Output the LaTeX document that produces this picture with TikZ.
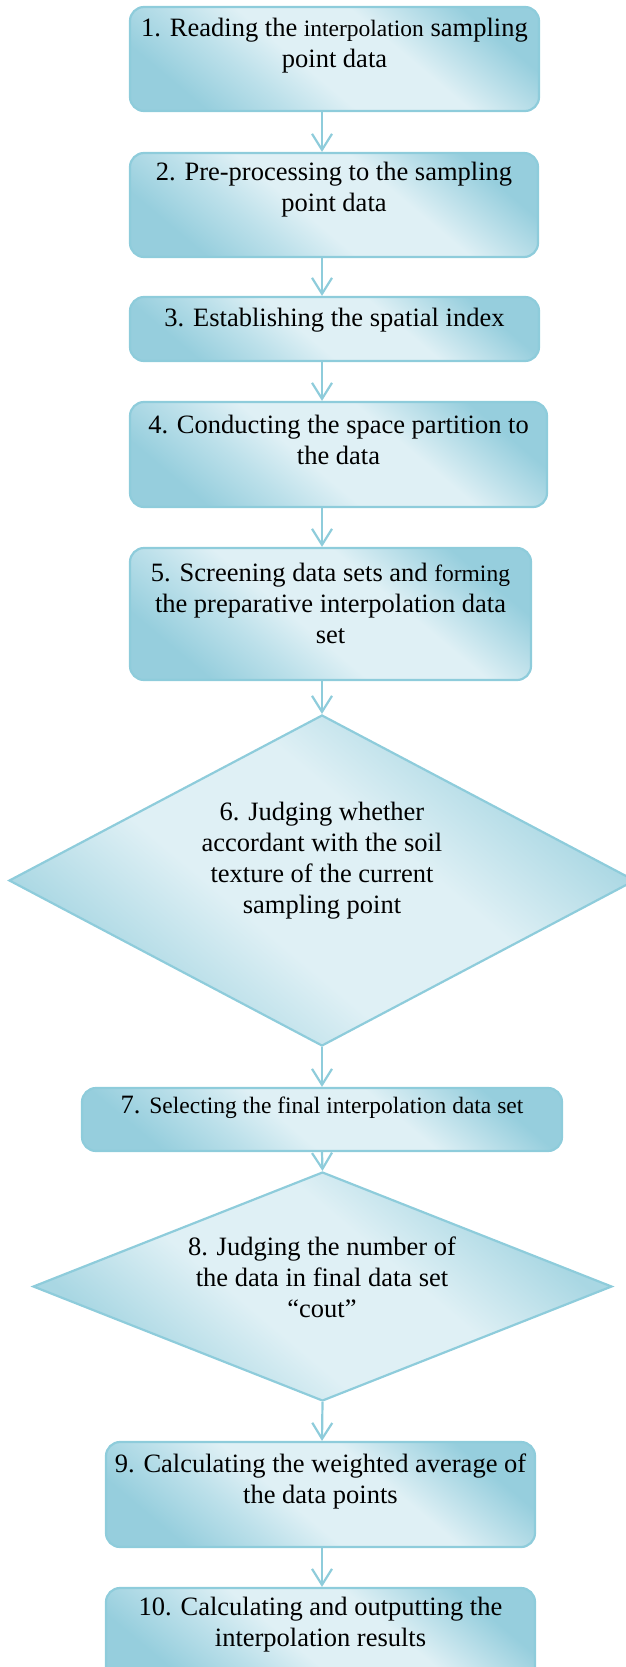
\documentclass[tikz,border=0pt]{standalone}
\usepackage{fontspec}
\setmainfont{Liberation Serif}
\usetikzlibrary{arrows.meta,shapes.geometric}
\definecolor{edgeblue}{HTML}{8ECCDB}
\definecolor{darkfill}{HTML}{96CEDD}
\definecolor{midfill}{HTML}{BCE0EA}
\definecolor{lightfill}{HTML}{DFF0F5}
\definecolor{ddark}{HTML}{A9D7E3}
\pgfdeclareverticalshading{boxshade}{100bp}{color(0bp)=(darkfill); color(25bp)=(darkfill); color(36bp)=(midfill); color(45bp)=(lightfill); color(60bp)=(lightfill); color(75bp)=(darkfill); color(100bp)=(darkfill)}
\pgfdeclareverticalshading{diashade}{100bp}{color(0bp)=(ddark); color(28bp)=(ddark); color(42bp)=(lightfill); color(58bp)=(lightfill); color(72bp)=(ddark); color(100bp)=(ddark)}
\begin{document}
\begin{tikzpicture}[x=1pt,y=-1pt,
  stepbox/.style={draw=edgeblue, line width=2.2pt, rounded corners=14pt,
    shading=boxshade, shading angle=-40, inner sep=0pt},
  decision/.style={diamond, draw=edgeblue, line width=2.2pt,
    shading=diashade, shading angle=-40, inner sep=0pt},
  txt/.style={align=center, font=\fontsize{26.5}{31}\selectfont, inner sep=0pt},
  flow/.style={draw=edgeblue, line width=2.2pt, -{Straight Barb[length=16pt,width=20pt]}}]
\clip (0,0) rectangle (626,1667);
\useasboundingbox (0,0) rectangle (626,1667);
\coordinate (ax) at (322,0);
% boxes
\node[stepbox, minimum width=409pt, minimum height=104pt] (b1) at (334.5,59) {};
\node[stepbox, minimum width=408pt, minimum height=104pt] (b2) at (334,205) {};
\node[stepbox, minimum width=409pt, minimum height=64pt] (b3) at (334.5,329) {};
\node[stepbox, minimum width=417pt, minimum height=105pt] (b4) at (338.5,454.5) {};
\node[stepbox, minimum width=401pt, minimum height=132pt] (b5) at (330.5,614) {};
\node[decision, minimum width=626pt, minimum height=331pt] (d6) at (322,880.5) {};
\node[stepbox, minimum width=480pt, minimum height=63pt] (b7) at (322,1119.5) {};
\node[decision, minimum width=579pt, minimum height=229pt] (d8) at (322.5,1286.5) {};
\node[stepbox, minimum width=429pt, minimum height=105pt] (b9) at (320.5,1494.5) {};
\node[stepbox, minimum width=429pt, minimum height=92pt] (b10) at (320.5,1634) {};
% texts
\node[txt] (t1) at (334.5,46) {1. Reading the {\fontsize{23.5}{31}\selectfont interpolation} sampling\\point data};
\node[txt] (t2) at (334,190) {2. Pre-processing to the sampling\\point data};
\node[txt] (t3) at (334.5,320) {3. Establishing the spatial index};
\node[txt] (t4) at (338.5,440) {4. Conducting the space partition to\\the data};
\node[txt] (t5) at (330.5,603) {5. Screening data sets and {\fontsize{23.5}{31}\selectfont forming}\\the preparative interpolation data\\set};
\node[txt] (t6) at (322,861) {6. Judging whether\\accordant with the soil\\texture of the current\\sampling point};
\node[txt] (t7) at (322,1107) {7. {\fontsize{23.5}{31}\selectfont Selecting the final interpolation data set}};
\node[txt] (t8) at (322,1277) {8. Judging the number of\\the data in final data set\\“cout”};
\node[txt] (t9) at (320.5,1481) {9. Calculating the weighted average of\\the data points};
\node[txt] (t10) at (320.5,1625) {10. Calculating and outputting the\\interpolation results};
% connectors
\draw[flow] (b1.south -| ax) -- (b2.north -| ax);
\draw[flow] (b2.south -| ax) -- (b3.north -| ax);
\draw[flow] (b3.south -| ax) -- (b4.north -| ax);
\draw[flow] (b4.south -| ax) -- (b5.north -| ax);
\draw[flow] (b5.south -| ax) -- (d6.north);
\draw[flow] (d6.south) -- (b7.north -| ax);
\draw[flow] (b7.south -| ax) -- (d8.north);
\draw[flow] (d8.south) -- (b9.north -| ax);
\draw[flow] (b9.south -| ax) -- (b10.north -| ax);
\end{tikzpicture}
\end{document}
